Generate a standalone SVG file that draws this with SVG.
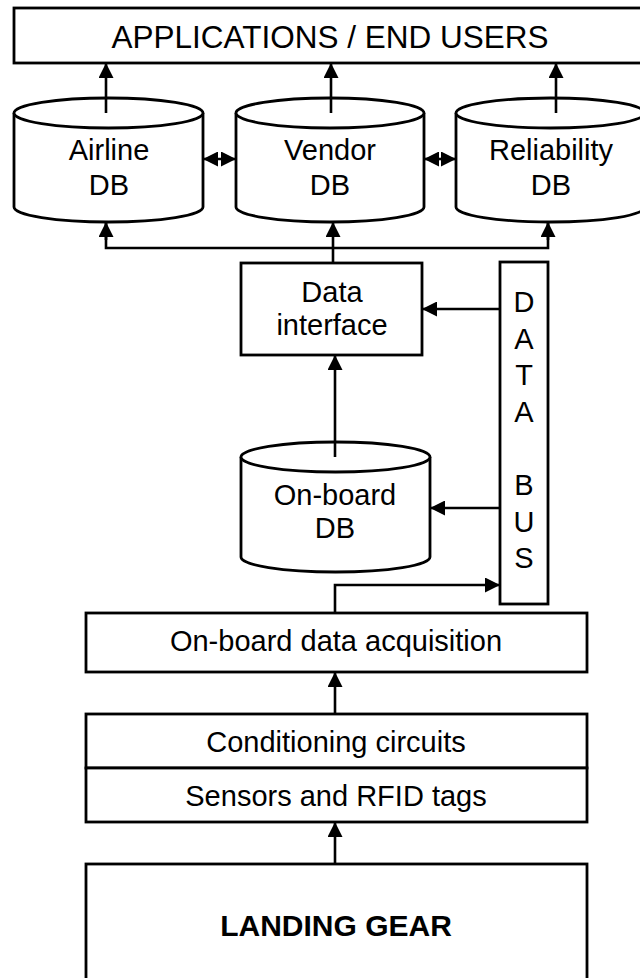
<svg xmlns="http://www.w3.org/2000/svg" width="640" height="978" viewBox="0 0 640 978">
  <style>
    .box { fill: #fff; stroke: #000; stroke-width: 2.8; }
    .wire { fill: none; stroke: #000; stroke-width: 2.6; }
    .lbl { font-family: "Liberation Sans", Arial, sans-serif; font-size: 29px; fill: #000; text-anchor: middle; }
    .big { font-size: 31.5px; }
    .bold { font-weight: bold; font-size: 30px; }
  </style>
  <defs>
    <marker id="head" markerUnits="userSpaceOnUse" markerWidth="15" markerHeight="15" refX="15" refY="7.5" orient="auto-start-reverse">
      <path d="M0,0 L15,7.5 L0,15 Z" fill="#000"/>
    </marker>
  </defs>
  <rect x="0" y="0" width="640" height="978" fill="#fff"/>

  <!-- top layer -->
  <g id="apps">
    <rect class="box" x="14" y="8" width="640" height="55"/>
    <text class="lbl big" x="330" y="48">APPLICATIONS / END USERS</text>
  </g>

  <!-- database cylinders -->
  <g id="airline-db">
    <path class="box" d="M14,113 L14,207 A94.5,15 0 0 0 203,207 L203,113"/>
    <ellipse class="box" cx="108.5" cy="113" rx="94.5" ry="15"/>
    <text class="lbl" x="109" y="160">Airline</text>
    <text class="lbl" x="109" y="195">DB</text>
  </g>
  <g id="vendor-db">
    <path class="box" d="M236,113 L236,207 A94,15 0 0 0 424,207 L424,113"/>
    <ellipse class="box" cx="330" cy="113" rx="94" ry="15"/>
    <text class="lbl" x="330" y="160">Vendor</text>
    <text class="lbl" x="330" y="195">DB</text>
  </g>
  <g id="reliability-db">
    <path class="box" d="M456,113 L456,207 A94.5,15 0 0 0 645,207 L645,113"/>
    <ellipse class="box" cx="550.5" cy="113" rx="94.5" ry="15"/>
    <text class="lbl" x="551" y="160">Reliability</text>
    <text class="lbl" x="551" y="195">DB</text>
  </g>

  <g id="data-interface">
    <rect class="box" x="241" y="263" width="181" height="92"/>
    <text class="lbl" x="332" y="302">Data</text>
    <text class="lbl" x="332" y="335">interface</text>
  </g>

  <g id="data-bus">
    <rect class="box" x="500" y="262" width="48" height="342"/>
    <text class="lbl" x="524" y="312">D</text>
    <text class="lbl" x="524" y="349">A</text>
    <text class="lbl" x="524" y="385">T</text>
    <text class="lbl" x="524" y="422">A</text>
    <text class="lbl" x="524" y="495">B</text>
    <text class="lbl" x="524" y="532">U</text>
    <text class="lbl" x="524" y="568">S</text>
  </g>

  <g id="onboard-db">
    <path class="box" d="M241,457 L241,557 A94.5,15 0 0 0 430,557 L430,457"/>
    <ellipse class="box" cx="335.5" cy="457" rx="94.5" ry="15"/>
    <text class="lbl" x="335" y="505">On-board</text>
    <text class="lbl" x="335" y="538">DB</text>
  </g>

  <g id="acquisition">
    <rect class="box" x="86" y="613" width="501" height="59"/>
    <text class="lbl" x="336" y="651">On-board data acquisition</text>
  </g>

  <g id="conditioning">
    <rect class="box" x="86" y="714" width="501" height="54"/>
    <text class="lbl" x="336" y="752">Conditioning circuits</text>
  </g>
  <g id="sensors">
    <rect class="box" x="86" y="768" width="501" height="54"/>
    <text class="lbl" x="336" y="806">Sensors and RFID tags</text>
  </g>

  <g id="landing-gear">
    <rect class="box" x="86" y="864" width="501" height="130"/>
    <text class="lbl bold" x="336" y="936">LANDING GEAR</text>
  </g>

  <!-- connectors -->
  <g id="connectors" class="wire">
    <line class="wire" x1="106" y1="113" x2="106" y2="63" marker-end="url(#head)"/>
    <line class="wire" x1="331" y1="113" x2="331" y2="63" marker-end="url(#head)"/>
    <line class="wire" x1="556" y1="113" x2="556" y2="63" marker-end="url(#head)"/>

    <line class="wire" x1="203" y1="159" x2="236" y2="159" marker-start="url(#head)" marker-end="url(#head)"/>
    <line class="wire" x1="424" y1="159" x2="456" y2="159" marker-start="url(#head)" marker-end="url(#head)"/>

    <polyline class="wire" points="106,222 106,248 548,248 548,222"/>
    <line class="wire" x1="106" y1="240" x2="106" y2="222" marker-end="url(#head)"/>
    <line class="wire" x1="548" y1="240" x2="548" y2="222" marker-end="url(#head)"/>
    <line class="wire" x1="333" y1="263" x2="333" y2="222" marker-end="url(#head)"/>

    <line class="wire" x1="500" y1="309" x2="422" y2="309" marker-end="url(#head)"/>
    <line class="wire" x1="500" y1="508" x2="430" y2="508" marker-end="url(#head)"/>
    <line class="wire" x1="335" y1="457" x2="335" y2="355" marker-end="url(#head)"/>

    <polyline class="wire" points="335,613 335,585 500,585" marker-end="url(#head)"/>
    <line class="wire" x1="335" y1="714" x2="335" y2="672" marker-end="url(#head)"/>
    <line class="wire" x1="335" y1="864" x2="335" y2="822" marker-end="url(#head)"/>
  </g>
</svg>
